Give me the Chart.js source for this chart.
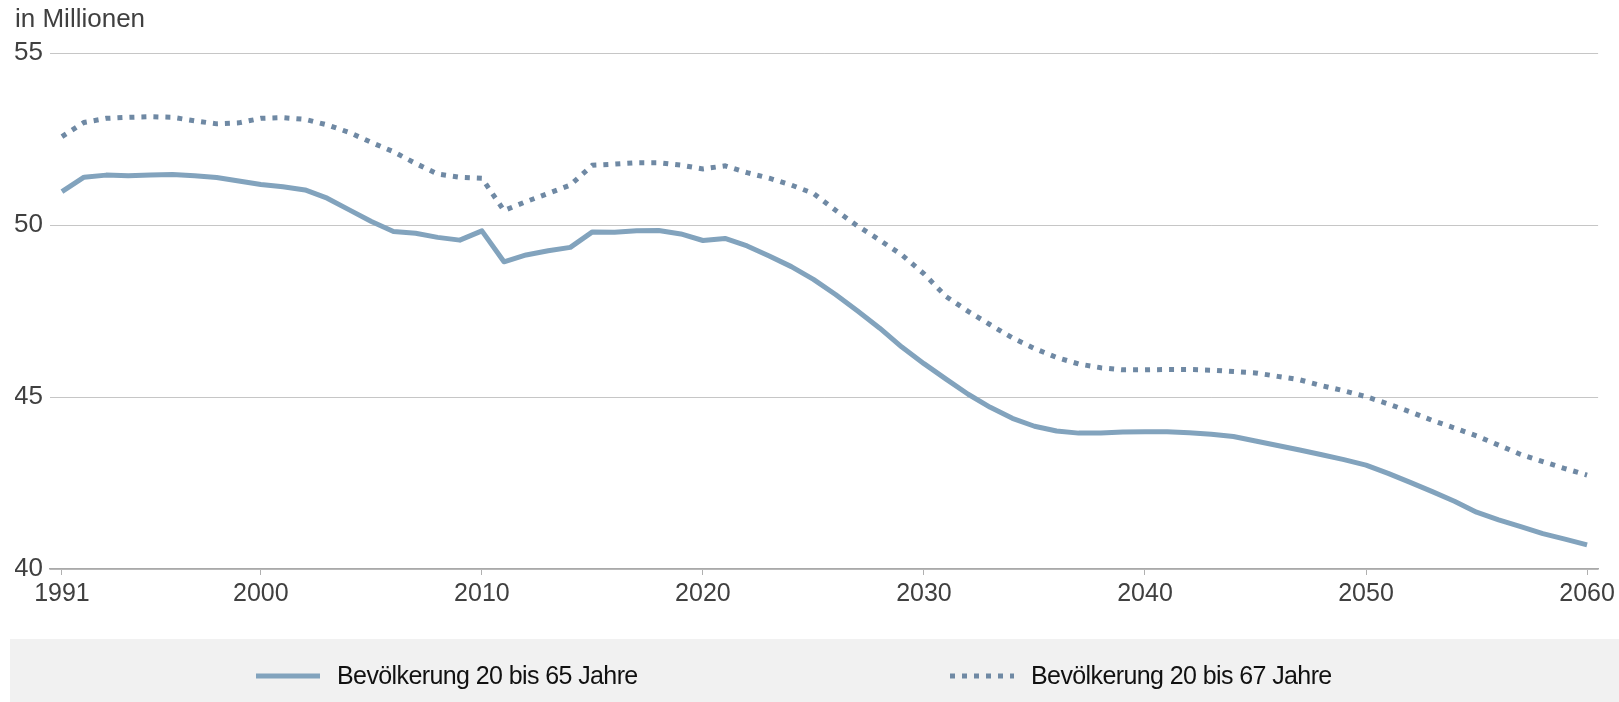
<!DOCTYPE html>
<html>
<head>
<meta charset="utf-8">
<script src="https://cdn.jsdelivr.net/npm/chart.js@4/dist/chart.umd.min.js"></script>
<style>
  html, body { margin: 0; padding: 0; background: #ffffff; }
  #wrap { width: 1619px; height: 702px; position: relative; }
</style>
</head>
<body>
<div id="wrap"><canvas id="c"></canvas></div>
<script>
// ---- data ----
const years = [];
for (let y = 1991; y <= 2060; y++) years.push(y);

const pop20to65 = [
  50.97, 51.39, 51.45, 51.43, 51.45, 51.47, 51.43, 51.38, 51.28, 51.18, // 1991-2000
  51.11, 51.02, 50.78, 50.44, 50.10, 49.81, 49.76, 49.64, 49.56, 49.83, // 2001-2010
  48.93, 49.13, 49.25, 49.35, 49.80, 49.79, 49.83, 49.84, 49.74, 49.55, // 2011-2020
  49.61, 49.39, 49.10, 48.79, 48.42, 47.98, 47.50, 47.00, 46.45, 45.97, // 2021-2030
  45.52, 45.08, 44.70, 44.38, 44.15, 44.01, 43.95, 43.95, 43.98, 43.99, // 2031-2040
  43.99, 43.96, 43.92, 43.85, 43.72, 43.59, 43.46, 43.32, 43.18, 43.02, // 2041-2050
  42.78, 42.52, 42.25, 41.97, 41.65, 41.43, 41.23, 41.03, 40.87, 40.70  // 2051-2060
];

const pop20to67 = [
  52.57, 52.98, 53.10, 53.13, 53.15, 53.13, 53.03, 52.94, 52.97, 53.10, // 1991-2000
  53.12, 53.07, 52.91, 52.69, 52.40, 52.13, 51.79, 51.48, 51.39, 51.36, // 2001-2010
  50.42, 50.68, 50.92, 51.16, 51.74, 51.77, 51.81, 51.81, 51.74, 51.63, // 2011-2020
  51.72, 51.52, 51.36, 51.16, 50.92, 50.43, 49.97, 49.56, 49.13, 48.58, // 2021-2030
  47.92, 47.49, 47.10, 46.72, 46.41, 46.15, 45.96, 45.85, 45.79, 45.79, // 2031-2040
  45.80, 45.80, 45.78, 45.74, 45.70, 45.60, 45.50, 45.33, 45.18, 45.01, // 2041-2050
  44.80, 44.57, 44.32, 44.10, 43.87, 43.60, 43.33, 43.12, 42.92, 42.73  // 2051-2060
];

const seriesLabels = ['Bevölkerung 20 bis 65 Jahre', 'Bevölkerung 20 bis 67 Jahre'];
const xTickYears = [1991, 2000, 2010, 2020, 2030, 2040, 2050, 2060];
const yTickValues = [40, 45, 50, 55];
const unitLabel = 'in Millionen';

// ---- chart ----
const FONT = "'Liberation Sans', Arial, Helvetica, sans-serif";
Chart.defaults.font.family = FONT;

const toPoints = (vals) => vals.map((v, i) => ({ x: years[i], y: v }));

const bottomLegend = {
  id: 'bottomLegend',
  afterDraw(chart) {
    const ctx = chart.ctx;
    ctx.save();
    ctx.fillStyle = '#f1f1f1';
    ctx.fillRect(10, 639, chart.width - 10, chart.height - 639);
    const itemX = [256, 950];
    const lineW = 64;
    const cy = 676;
    chart.data.datasets.forEach((ds, i) => {
      const x0 = itemX[i];
      ctx.save();
      ctx.strokeStyle = ds.borderColor;
      ctx.lineWidth = ds.borderWidth;
      ctx.setLineDash(ds.borderDash || []);
      ctx.lineCap = 'butt';
      ctx.beginPath();
      ctx.moveTo(x0, cy);
      ctx.lineTo(x0 + lineW, cy);
      ctx.stroke();
      ctx.restore();
      ctx.save();
      ctx.fillStyle = '#111111';
      ctx.font = '25px ' + FONT;
      try { ctx.letterSpacing = '-0.6px'; } catch (e) {}
      ctx.textBaseline = 'alphabetic';
      ctx.textAlign = 'left';
      ctx.fillText(ds.label, x0 + lineW + 17, 684);
      ctx.restore();
    });
    ctx.restore();
  }
};

new Chart(document.getElementById('c'), {
  type: 'line',
  data: {
    datasets: [
      {
        label: seriesLabels[0],
        data: toPoints(pop20to65),
        borderColor: '#82a3bd',
        borderWidth: 5,
        borderJoinStyle: 'round',
        pointRadius: 0,
        tension: 0,
        fill: false
      },
      {
        label: seriesLabels[1],
        data: toPoints(pop20to67),
        borderColor: '#6f89a4',
        borderWidth: 5,
        borderDash: [5, 7],
        borderCapStyle: 'butt',
        pointRadius: 0,
        tension: 0,
        fill: false
      }
    ]
  },
  options: {
    responsive: true,
    maintainAspectRatio: false,
    animation: false,
    devicePixelRatio: 1,
    layout: { padding: { left: 15, right: 20, top: 0, bottom: 93 } },
    plugins: {
      legend: { display: false },
      tooltip: { enabled: false },
      title: {
        display: true,
        text: unitLabel,
        align: 'start',
        color: '#404040',
        font: { size: 26, weight: 'normal', family: FONT, lineHeight: 1.2 },
        padding: { top: 4, bottom: 17.8 }
      }
    },
    scales: {
      x: {
        type: 'linear',
        min: 1990.46,
        max: 2060.5,
        afterBuildTicks: (scale) => { scale.ticks = xTickYears.map(v => ({ value: v })); },
        afterFit: (scale) => { scale.height = 40; },
        ticks: {
          autoSkip: false,
          maxRotation: 0,
          padding: 4,
          color: '#404040',
          font: { size: 25, family: FONT },
          callback: (v) => String(v)
        },
        grid: {
          drawOnChartArea: false,
          drawTicks: true,
          tickLength: 6,
          color: '#b0b0b0',
          lineWidth: 1
        },
        border: { display: true, color: '#a9a9a9', width: 1.5 }
      },
      y: {
        min: 40,
        max: 55,
        afterBuildTicks: (scale) => { scale.ticks = yTickValues.map(v => ({ value: v })); },
        afterFit: (scale) => { scale.width = 35; },
        ticks: {
          padding: 7,
          color: '#404040',
          font: { size: 26, family: FONT },
          callback: (v) => String(v)
        },
        grid: {
          drawTicks: false,
          color: '#c6c6c6',
          lineWidth: 1
        },
        border: { display: false }
      }
    }
  },
  plugins: [bottomLegend]
});
</script>
</body>
</html>
